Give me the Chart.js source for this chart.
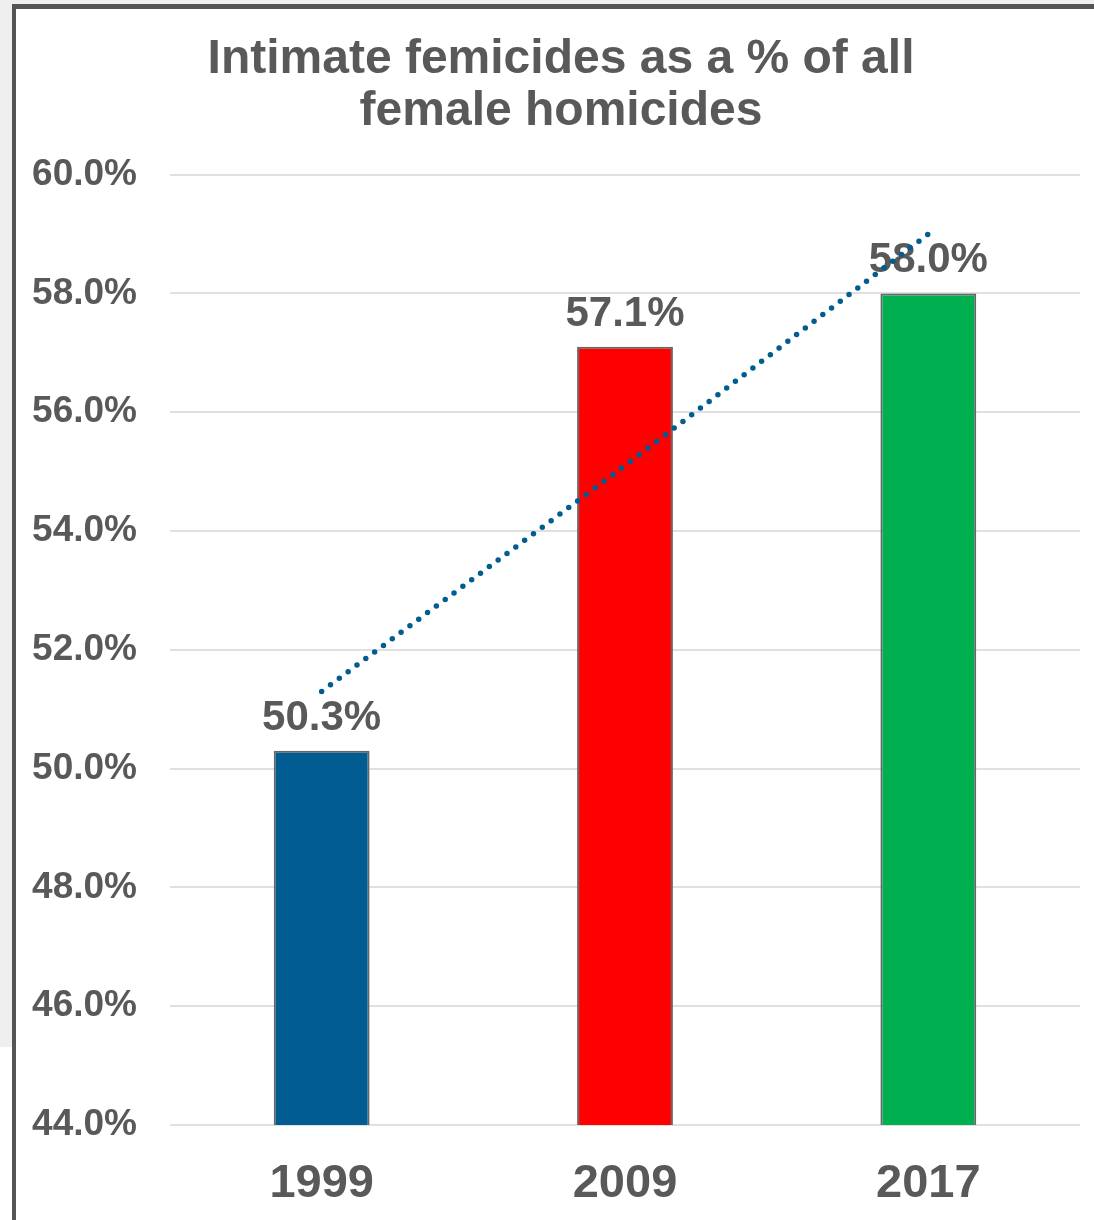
<!DOCTYPE html>
<html>
<head>
<meta charset="utf-8">
<script src="https://cdn.jsdelivr.net/npm/chart.js@4.4.1/dist/chart.umd.min.js"></script>
<style>
  html, body { margin: 0; padding: 0; background: #fff; }
  body { width: 1094px; height: 1220px; position: relative; overflow: hidden; }
  #bg { position: absolute; left: 0; top: 0; width: 1094px; height: 1047px; background: #efefef; }
  #frame { position: absolute; left: 12px; top: 4px; width: 1100px; height: 1240px;
           background: #fff; border-left: 4px solid #555; border-top: 5px solid #555; }
  #wrap { position: absolute; left: 16px; top: 9px; width: 1078px; height: 1211px; }
</style>
</head>
<body>
<div id="bg"></div>
<div id="frame"></div>
<div id="wrap"><canvas id="chart"></canvas></div>
<script>
const years = ["1999", "2009", "2017"];
const shares = [50.3, 57.1, 58.0];
const trend = [51.3, 55.1, 59.0];
const barColors = ["#005c91", "#ff0000", "#00b050"];
const titleLines = ["Intimate femicides as a % of all", "female homicides"];

const FONT = "'Liberation Sans', Arial, sans-serif";
const GREY = "#595959";

// etiquettes de valeur au-dessus des barres
const valueLabels = {
  id: "valueLabels",
  afterDatasetDraw(chart, args) {
    if (args.index !== 0) return;
    const ctx = chart.ctx;
    ctx.save();
    ctx.font = "bold 42px " + FONT;
    ctx.fillStyle = GREY;
    ctx.textAlign = "center";
    ctx.textBaseline = "alphabetic";
    args.meta.data.forEach((bar, i) => {
      ctx.fillText(shares[i].toFixed(1) + "%", bar.x, bar.y - 21);
    });
    ctx.restore();
  }
};

// décaler un peu le titre vers la droite
const titleShift = {
  id: "titleShift",
  afterLayout(chart) {
    if (chart.titleBlock) chart.titleBlock.left += 26;
  }
};

new Chart(document.getElementById("chart"), {
  type: "bar",
  data: {
    labels: years,
    datasets: [
      {
        type: "bar",
        data: shares,
        backgroundColor: barColors,
        borderColor: "#666666",
        borderWidth: 2,
        categoryPercentage: 1,
        barPercentage: 0.316,
        order: 1
      },
      {
        type: "line",
        data: trend,
        borderColor: "#005c91",
        borderWidth: 5.5,
        borderDash: [0, 11],
        borderCapStyle: "round",
        pointRadius: 0,
        fill: false,
        order: 0
      }
    ]
  },
  options: {
    responsive: true,
    maintainAspectRatio: false,
    animation: false,
    layout: { padding: { left: 0, right: 14, top: 0, bottom: 10 } },
    plugins: {
      legend: { display: false },
      tooltip: { enabled: false },
      title: {
        display: true,
        text: titleLines,
        color: GREY,
        font: { family: FONT, size: 48, weight: "bold", lineHeight: 1.1 },
        padding: { top: 24, bottom: 36 }
      }
    },
    scales: {
      x: {
        grid: { display: false, drawTicks: false },
        border: { display: false },
        afterFit(axis) { axis.height = 85; },
        ticks: { color: GREY, padding: 31, font: { family: FONT, size: 47, weight: "bold" } }
      },
      y: {
        min: 44,
        max: 60,
        grid: { color: "#e0e0e0", lineWidth: 2, drawTicks: false },
        border: { display: false },
        afterFit(axis) { axis.width = 154; },
        ticks: {
          stepSize: 2,
          color: GREY,
          padding: 33,
          font: { family: FONT, size: 37, weight: "bold" },
          callback: v => v.toFixed(1) + "%"
        }
      }
    }
  },
  plugins: [valueLabels, titleShift]
});
</script>
</body>
</html>
